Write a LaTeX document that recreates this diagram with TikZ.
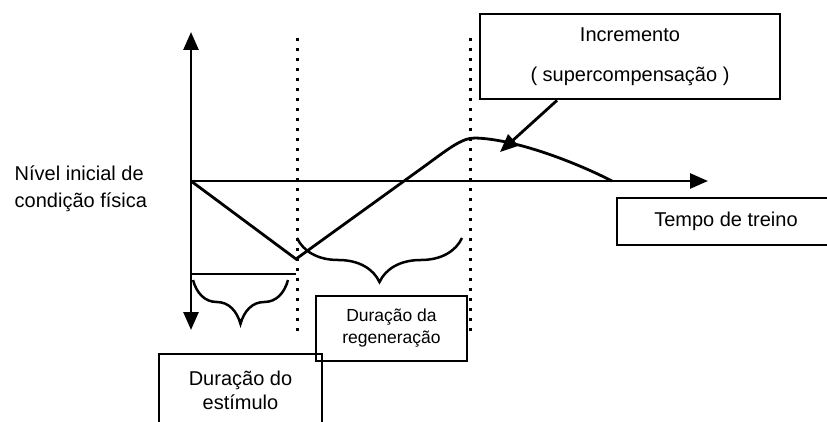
\documentclass[tikz,border=0pt]{standalone}
\usepackage{fontspec}
\setmainfont{Liberation Sans}
\usetikzlibrary{arrows.meta,calc,decorations.pathreplacing}

\begin{document}
\begin{tikzpicture}[x=1pt, y=-1pt, line width=2.8pt, >={Triangle[length=18pt,width=15pt]},
  font=\fontsize{20}{24}\selectfont,
  box/.style={draw, rectangle, inner sep=0pt, align=center},
  dots/.style={line width=3pt, dash pattern=on 3pt off 7pt},
  brc/.style={decorate, decoration={brace, mirror, amplitude=44pt}}]
\useasboundingbox (0,0) rectangle (827,422);

% axes
\coordinate (TOP) at (191, 32);
\coordinate (ORIGIN) at (191, 181);
\coordinate (BOTTOM) at (191, 330);
\coordinate (TIME_END) at (708, 181);
\draw [<->] (TOP) -- (BOTTOM);
\draw [->] (ORIGIN) -- (TIME_END);

% dotted limits
\coordinate (LIM1_TOP) at (297, 38);
\coordinate (LIM1_BOT) at (297, 337);
\coordinate (LIM2_TOP) at (470, 38);
\coordinate (LIM2_BOT) at (470, 335);
\draw [dots] (LIM1_TOP) -- (LIM1_BOT);
\draw [dots] (LIM2_TOP) -- (LIM2_BOT);

% condition curve
\coordinate (LOW) at (296, 259);
\coordinate (RISE) at (420, 169.5);
\coordinate (PEAK) at (475, 138);
\coordinate (FALL) at (612, 181);
\draw (ORIGIN) -- (LOW) -- (RISE)
    .. controls (448, 149.3) and (461, 138) .. (PEAK)
    .. controls (515, 139) and (575, 162) .. (FALL);

% stimulus duration
\coordinate (STIM_A) at (191, 274);
\coordinate (STIM_B) at (296, 274);
\draw [-] (STIM_A) -- (STIM_B);
\coordinate (BRACE1_A) at (193, 280);
\coordinate (BRACE1_B) at (288, 280);
\draw [brc, line width=2.5pt] (BRACE1_A) -- (BRACE1_B);
\coordinate (BRACE2_A) at (297, 238);
\coordinate (BRACE2_B) at (462, 238);
\draw [brc, line width=2.5pt] (BRACE2_A) -- (BRACE2_B);

% labels
\node [anchor=west, align=left, font=\fontsize{20}{27}\selectfont] at (10, 188.5) (NIVEL)
    {Nível inicial de\\condição física};
\node [box, minimum width=300, minimum height=85] at (630, 56.5) (INCR)
    {Incremento\\[16pt]( supercompensação )};
\node [box, minimum width=218, minimum height=47] at (726, 221.5) (TEMPO)
    {Tempo de treino};
\node [box, minimum width=151, minimum height=65, font=\fontsize{17.5}{22}\selectfont]
    at (391.5, 328.5) (REGEN) {Duração da\\regeneração};
\node [box, minimum width=163, minimum height=72] at (240.5, 390) (ESTIM)
    {Duração do\\estímulo};

\coordinate (PEAK_TIP) at (500, 152);
\draw [->] ($(INCR.south)+(-73,0)$) -- (PEAK_TIP);
\end{tikzpicture}
\end{document}
